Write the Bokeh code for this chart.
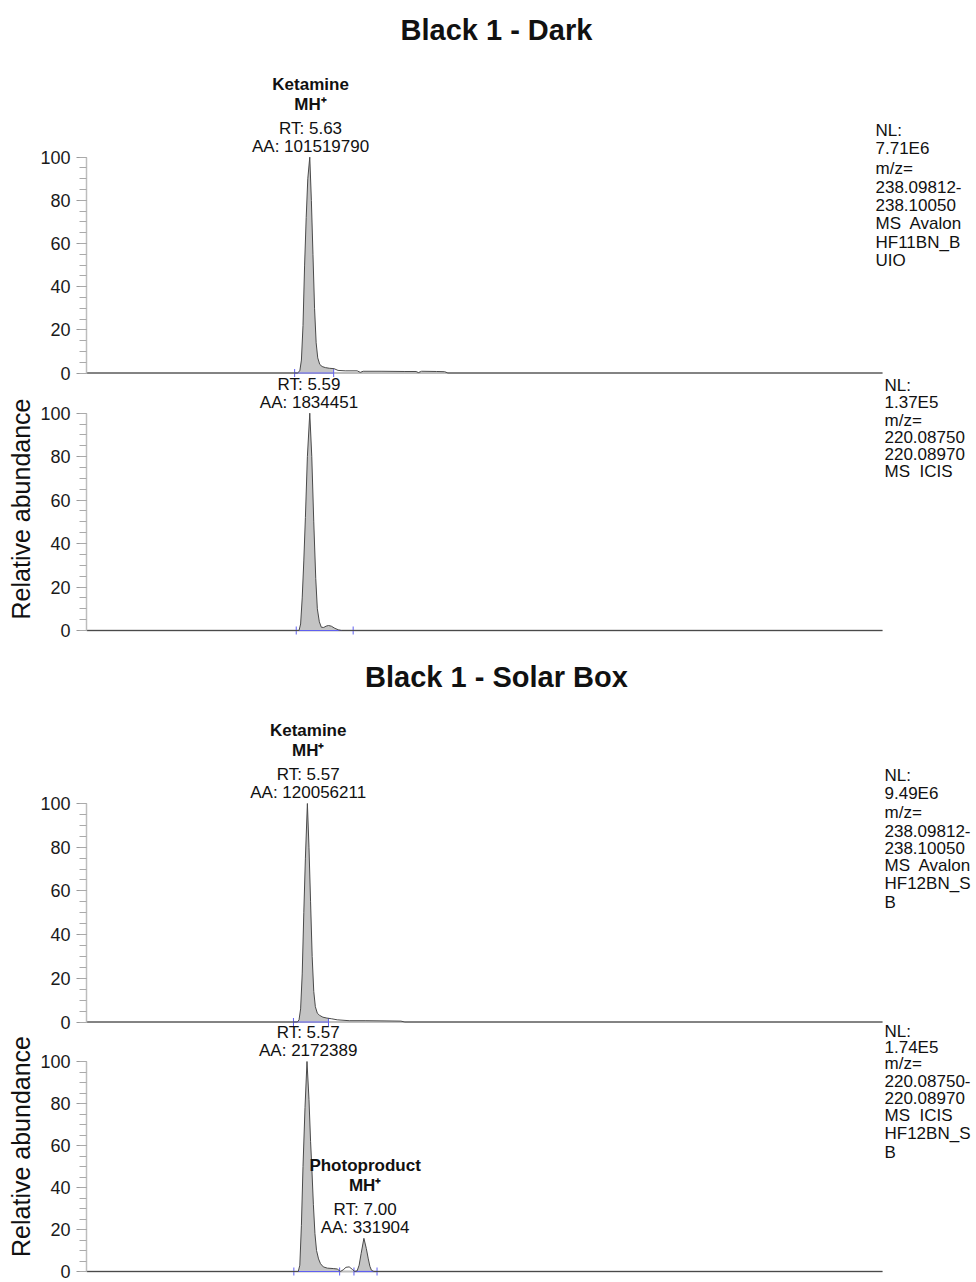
import numpy as np
from bokeh.plotting import figure
from bokeh.layouts import column
from bokeh.models import Range1d, FixedTicker
from bokeh.core.properties import value
from bokeh.embed import file_html
from bokeh.resources import INLINE

# ---------------- data ----------------
# Black 1 - Dark, m/z 238 (ketamine)
dark_238_time = [0, 5.30, 5.36, 5.40, 5.44, 5.48, 5.52, 5.56, 5.61, 5.65, 5.69, 5.73, 5.77, 5.81,
                 5.86, 5.92, 6.00, 6.10, 6.22, 6.32, 6.50, 6.80, 6.88, 6.95, 7.40, 8.00, 8.28,
                 8.34, 8.42, 8.80, 9.00, 9.08, 20]
dark_238_int = [0, 0, 1, 6, 22, 50, 72, 90, 100, 80, 55, 30, 14, 7,
                4, 3, 2.5, 2.2, 2.0, 1.2, 1.0, 1.0, 0.3, 0.8, 0.8, 0.7, 0.7,
                0.2, 0.8, 0.7, 0.6, 0, 0]
dark_238_windows = [(5.23, 6.21)]
dark_238_peaks = [("Ketamine", "MH⁺", 5.63, 101519790)]
dark_238_info = ["NL:", "7.71E6", "m/z=", "238.09812-", "238.10050", "MS\u00a0 Avalon", "HF11BN_B", "UIO"]

# Black 1 - Dark, m/z 220
dark_220_time = [0, 5.34, 5.38, 5.42, 5.46, 5.50, 5.55, 5.61, 5.66, 5.71, 5.76, 5.80, 5.85, 5.90,
                 5.96, 6.02, 6.08, 6.15, 6.24, 6.33, 6.40, 20]
dark_220_int = [0, 0, 3, 15, 32, 52, 80, 100, 80, 50, 24, 10, 4, 1.5,
                1.4, 2.0, 2.3, 2.0, 1.0, 0.3, 0, 0]
dark_220_windows = [(5.27, 6.70)]
dark_220_peaks = [(None, None, 5.59, 1834451)]
dark_220_info = ["NL:", "1.37E5", "m/z=", "220.08750", "220.08970", "MS\u00a0 ICIS"]

# Black 1 - Solar Box, m/z 238 (ketamine)
solar_238_time = [0, 5.30, 5.34, 5.38, 5.42, 5.46, 5.50, 5.55, 5.59, 5.63, 5.67, 5.71, 5.75, 5.80,
                  5.86, 5.94, 6.04, 6.15, 6.30, 6.60, 7.00, 7.50, 7.90, 8.00, 20]
solar_238_int = [0, 0, 1, 6, 22, 50, 75, 100, 80, 55, 30, 14, 7, 4,
                 3, 2.2, 1.8, 1.5, 1.0, 0.6, 0.6, 0.5, 0.4, 0, 0]
solar_238_windows = [(5.20, 6.08)]
solar_238_peaks = [("Ketamine", "MH⁺", 5.57, 120056211)]
solar_238_info = ["NL:", "9.49E6", "m/z=", "238.09812-", "238.10050", "MS\u00a0 Avalon", "HF12BN_S", "B"]

# Black 1 - Solar Box, m/z 220 (ketamine fragment + photoproduct)
solar_220_time = [0, 5.32, 5.36, 5.40, 5.44, 5.49, 5.54, 5.59, 5.63, 5.66, 5.70, 5.74, 5.78, 5.83,
                  5.88, 5.95, 6.05, 6.20, 6.30, 6.38, 6.45, 6.52, 6.60, 6.68, 6.74, 6.80, 6.85,
                  6.90, 6.97, 7.03, 7.08, 7.12, 7.16, 7.22, 20]
solar_220_int = [0, 0, 3, 22, 50, 78, 100, 82, 62, 50, 32, 18, 10, 6,
                 3.7, 2.2, 1.6, 1.4, 1.2, 0, 0.8, 2.0, 2.2, 1.0, 0, 0.3, 3,
                 8.5, 15.8, 11, 6, 2.5, 0.6, 0, 0]
solar_220_windows = [(5.21, 6.36), (6.72, 7.30)]
solar_220_peaks = [(None, None, 5.57, 2172389), ("Photoproduct", "MH⁺", 7.00, 331904)]
solar_220_info = ["NL:", "1.74E5", "m/z=", "220.08750-", "220.08970", "MS\u00a0 ICIS", "HF12BN_S", "B"]

y_ticks = [0, 20, 40, 60, 80, 100]
y_minor = list(range(0, 101, 5))
titles = ["Black 1 - Dark", "Black 1 - Solar Box"]
y_label = "Relative abundance"

# ---------------- styling ----------------
FONT = value("Liberation Sans")
PX_PER_MIN = 39.8
LEFT = 86
FRAME_W = 890
TRACE = "#4a4a4a"
FILL = "#c4c4c4"
BLUE = "#5f5ff0"
AXIS = "#bdbdbd"
TXT = "#111111"


def panel(time, inten, windows, peaks, info, info_dx, info_dy, top, bottom, zero, hundred,
          margin_top, title=None, ylab=None):
    s = (zero - hundred) / 100.0           # pixels per % unit
    p = figure(width=LEFT + FRAME_W, height=bottom - top, output_backend="svg",
               toolbar_location=None, x_range=Range1d(0, FRAME_W / PX_PER_MIN),
               y_range=Range1d(-(bottom - zero) / s, (zero - top) / s),
               x_axis_location=None, min_border_left=LEFT, min_border_right=0,
               min_border_top=0, min_border_bottom=0, margin=(margin_top, 0, 0, 0))
    p.outline_line_color = None
    p.grid.visible = False
    p.background_fill_alpha = 0
    p.border_fill_alpha = 0

    ya = p.yaxis[0]
    ya.ticker = FixedTicker(ticks=y_ticks, minor_ticks=y_minor)
    ya.bounds = (0, 100)
    ya.axis_line_color = AXIS
    ya.axis_line_width = 1.5
    ya.major_tick_line_color = "#9a9a9a"
    ya.minor_tick_line_color = "#aaaaaa"
    ya.major_tick_out = 10
    ya.major_tick_in = 0
    ya.minor_tick_out = 7
    ya.minor_tick_in = 0
    ya.major_label_standoff = 6
    ya.major_label_text_font = "Liberation Sans"
    ya.major_label_text_font_size = "18px"
    ya.major_label_text_color = "#1a1a1a"
    if ylab:
        ya.axis_label = ylab
        ya.axis_label_text_font = "Liberation Sans"
        ya.axis_label_text_font_size = "25px"
        ya.axis_label_text_font_style = "normal"
        ya.axis_label_text_color = TXT
        ya.axis_label_standoff = 2

    t = np.asarray(time, float)
    y = np.asarray(inten, float)

    # time baseline (the x axis line, without ticks)
    p.segment(x0=[t.min()], y0=[0], x1=[t.max()], y1=[0], line_color=AXIS, line_width=2)

    # integrated areas
    for a, b in windows:
        m = (t > a) & (t < b)
        xs = np.concatenate([[a], t[m], [b]])
        ys = np.interp(xs, t, y)
        p.varea(x=xs, y1=0, y2=ys, fill_color=FILL)
    starts = [w[0] for w in windows]
    ends = [w[1] for w in windows]
    p.segment(x0=starts, y0=[0] * len(starts), x1=ends, y1=[0] * len(ends),
              line_color=BLUE, line_width=1.2)
    p.scatter(x=starts + ends, y=[0] * (2 * len(windows)), marker="dash", angle=np.pi / 2,
              size=8, line_color=BLUE, line_width=1)

    p.line(t, y, line_color=TRACE, line_width=1)

    # peak annotations
    for (name, ion, rt, area), (a, b) in zip(peaks, windows):
        m = (t >= a) & (t <= b)
        apex = float(y[m].max())
        if name:
            p.text(x=[rt, rt], y=[apex, apex], text=[name, ion], y_offset=[-73, -53],
                   text_align="center", text_baseline="middle", text_font=FONT,
                   text_font_size="17px", text_font_style="bold", text_color=TXT)
        p.text(x=[rt, rt], y=[apex, apex], text=[f"RT: {rt:.2f}", f"AA: {area}"],
               y_offset=[-29, -11], text_align="center", text_baseline="middle",
               text_font=FONT, text_font_size="17px", text_color=TXT)

    # right-hand trace info
    n = len(info)
    p.text(x=[t.max()] * n, y=[100] * n, text=info, x_offset=info_dx,
           y_offset=info_dy[:n], text_align="left", text_baseline="middle",
           text_font=FONT, text_font_size="17px", text_color=TXT)

    if title:
        p.text(x=[10.3], y=[100], text=[title], y_offset=[-127], text_align="center",
               text_baseline="middle", text_font=FONT, text_font_size="29px",
               text_font_style="bold", text_color=TXT)
    return p


# figures overlap slightly (negative top margin) so that texts near the
# panel joins are never cut by a canvas edge
p1 = panel(dark_238_time, dark_238_int, dark_238_windows, dark_238_peaks, dark_238_info,
           -7, [-27, -9, 11, 30, 48, 66, 85, 103], 0, 395, 372.5, 156.7, 0,
           title=titles[0])
p2 = panel(dark_220_time, dark_220_int, dark_220_windows, dark_220_peaks, dark_220_info,
           2, [-28, -11, 7, 24, 41, 58], 362, 655, 630, 412.7, 362 - 395,
           ylab=y_label)
p3 = panel(solar_238_time, solar_238_int, solar_238_windows, solar_238_peaks, solar_238_info,
           2, [-28, -10, 9, 27, 44, 62, 80, 99], 640, 1045, 1021.5, 803, 640 - 655,
           title=titles[1])
p4 = panel(solar_220_time, solar_220_int, solar_220_windows, solar_220_peaks, solar_220_info,
           2, [-30, -14, 2, 19, 36, 54, 72, 91], 1010, 1282, 1271, 1061, 1010 - 1045,
           ylab=y_label)

layout = column(p1, p2, p3, p4, spacing=0)
open("out.html", "w").write(file_html(layout, INLINE))
